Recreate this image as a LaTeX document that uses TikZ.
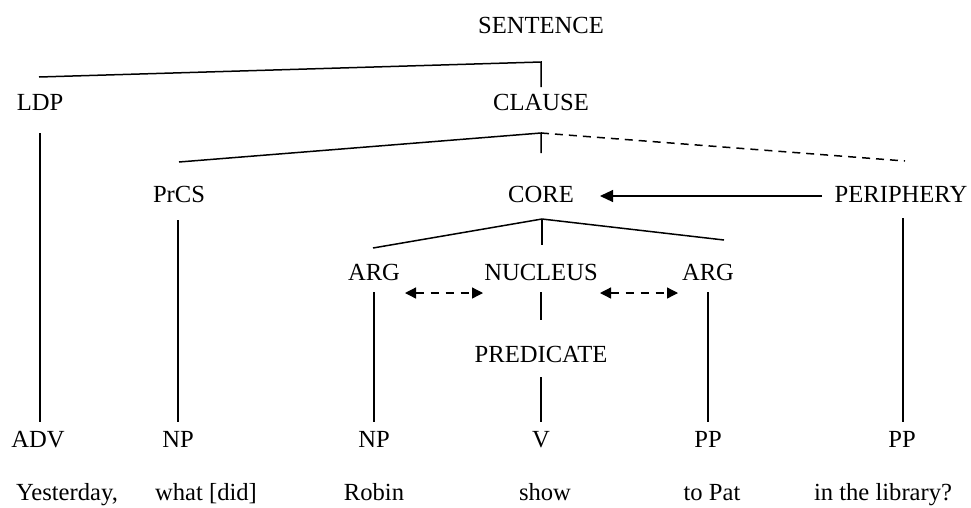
\documentclass[tikz,border=0pt]{standalone}
\usepackage{fontspec}
\setmainfont{Liberation Serif}
\usetikzlibrary{arrows.meta}
\begin{document}
\begin{tikzpicture}[x=1pt,y=-1pt,
  lbl/.style={inner sep=0pt, anchor=base, font=\fontsize{24.6pt}{29pt}\selectfont},
  br/.style={line width=1.5pt},
  thin br/.style={line width=1.1pt},
  dsh/.style={line width=1.5pt, dash pattern=on 8pt off 6pt},
  bigtip/.style={-{Triangle[length=13pt,width=12pt]}},
  dbltip/.style={{Triangle[length=11pt,width=11pt]}-{Triangle[length=11pt,width=11pt]}, line width=1.3pt, dash pattern=on 8pt off 7pt},
]
\useasboundingbox (0,0) rectangle (971,507);
\fill[white] (0,0) rectangle (971,507);

% labels
\node[lbl] (sentence) at (541,33) {SENTENCE};
\node[lbl] (ldp) at (40,110) {LDP};
\node[lbl] (clause) at (541,110) {CLAUSE};
\node[lbl] (prcs) at (179,202) {PrCS};
\node[lbl] (core) at (541,202) {CORE};
\node[lbl] (periphery) at (901,202) {PERIPHERY};
\node[lbl] (arg1) at (374,280) {ARG};
\node[lbl] (nucleus) at (541,280) {NUCLEUS};
\node[lbl] (arg2) at (708,280) {ARG};
\node[lbl] (predicate) at (541,362) {PREDICATE};
\node[lbl] (adv) at (38,447) {ADV};
\node[lbl] (np1) at (178,447) {NP};
\node[lbl] (np2) at (374,447) {NP};
\node[lbl] (v) at (541,447) {V};
\node[lbl] (pp1) at (708,447) {PP};
\node[lbl] (pp2) at (902,447) {PP};
\node[lbl] (w1) at (67,500) {Yesterday,};
\node[lbl] (w2) at (206,500) {what [did]};
\node[lbl] (w3) at (374,500) {Robin};
\node[lbl] (w4) at (545,500) {show};
\node[lbl] (w5) at (712,500) {to Pat};
\node[lbl] (w6) at (883,500) {in the library?};

% junction coordinates
\coordinate (sL) at (39,77);
\coordinate (sJ) at (541,62);
\coordinate (sB) at (541,87);
\coordinate (cL) at (179,162);
\coordinate (cJ) at (541,133);
\coordinate (cB) at (541,153);
\coordinate (cR) at (905,161);
\coordinate (kJ) at (542,219);
\coordinate (kL) at (373,248);
\coordinate (kR) at (724,240);
\coordinate (kB) at (542,245);
\coordinate (aS) at (822,196);
\coordinate (aE) at (600,196);
\coordinate (d1a) at (405,293);
\coordinate (d1b) at (483,293);
\coordinate (d2a) at (600,293);
\coordinate (d2b) at (678,293);
\coordinate (vLt) at (40,133);   \coordinate (vLb) at (40,422);
\coordinate (vPt) at (178,220);  \coordinate (vPb) at (178,422);
\coordinate (vAt) at (374,292);  \coordinate (vAb) at (374,422);
\coordinate (vNt) at (541,292);  \coordinate (vNb) at (541,320);
\coordinate (vQt) at (541,377);  \coordinate (vQb) at (541,422);
\coordinate (vBt) at (708,292);  \coordinate (vBb) at (708,422);
\coordinate (vRt) at (903,218);  \coordinate (vRb) at (903,422);

% tree lines
\draw[br] (sL) -- (sJ) -- (sB);
\draw[br] (cL) -- (cJ) -- (cB);
\draw[dsh] (cJ) -- (cR);
\draw[br] (kL) -- (kJ) -- (kR);
\draw[br] (kJ) -- (kB);
\draw[br] (vLt) -- (vLb);
\draw[br] (vPt) -- (vPb);
\draw[thin br] (vAt) -- (vAb);
\draw[br] (vNt) -- (vNb);
\draw[br] (vQt) -- (vQb);
\draw[br] (vBt) -- (vBb);
\draw[br] (vRt) -- (vRb);

% arrows
\draw[line width=1.2pt, bigtip] (aS) -- (aE);
\draw[dbltip] (d1a) -- (d1b);
\draw[dbltip] (d2a) -- (d2b);
\end{tikzpicture}
\end{document}
